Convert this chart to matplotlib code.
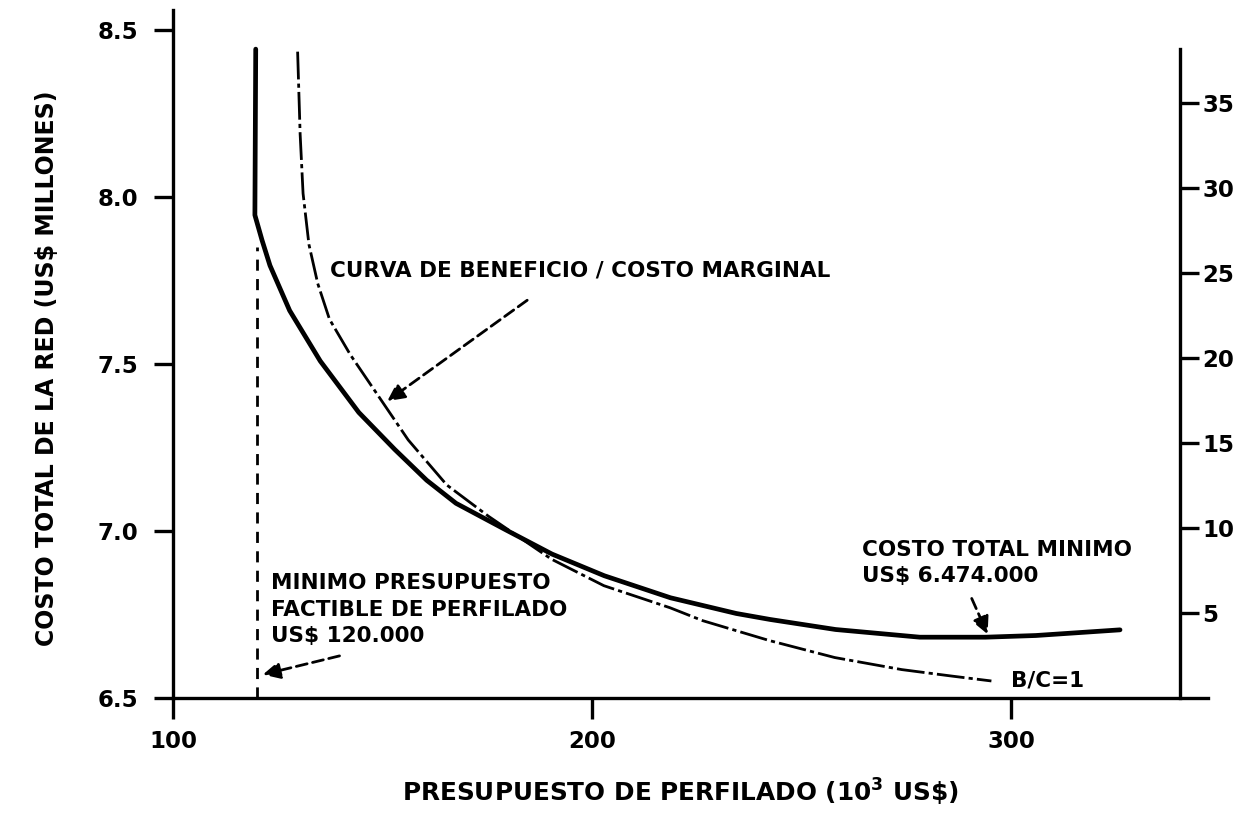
import matplotlib.pyplot as plt

# costo total de la red (eje izquierdo, US$ millones)
costo_x = [119.7, 119.5, 121.2, 123.1, 127.8, 135.1, 144.3, 152.9, 160.5, 167.5,
           179.3, 190.4, 202.9, 218.7, 234.4, 242.5, 258.1, 278.2, 293.9, 305.9, 326.0]
costo_y = [8.443, 7.946, 7.871, 7.795, 7.660, 7.509, 7.355, 7.244, 7.152, 7.083,
           7.004, 6.931, 6.866, 6.800, 6.753, 6.735, 6.705, 6.682, 6.682, 6.687, 6.704]

# curva beneficio / costo marginal (eje derecho)
bc_x = [129.7, 130.3, 131.0, 132.4, 134.5, 137.3, 142.3, 148.5, 156.1, 165.3,
        175.3, 190.3, 202.8, 218.6, 226.4, 242.3, 257.9, 273.9, 285.8, 295.3]
bc_y = [38.05, 33.2, 29.7, 26.7, 24.4, 22.3, 20.2, 17.95, 15.19, 12.54,
        10.69, 8.17, 6.61, 5.31, 4.55, 3.38, 2.38, 1.67, 1.29, 1.0]

# presupuesto minimo factible
x_min_factible = 120.0
y_corte = 7.85

x_ticks = [100, 200, 300]
y_ticks = [6.5, 7.0, 7.5, 8.0, 8.5]
y2_ticks = [5, 10, 15, 20, 25, 30, 35]

plt.rcParams["font.family"] = "DejaVu Sans"
plt.rcParams["font.weight"] = "bold"

fig = plt.figure(figsize=(12.46, 8.17), dpi=100)
ax = fig.add_axes([0.139, 0.1457, 0.8305, 0.842])
ax2 = ax.twinx()

ax.set_xlim(100, 347)
ax.set_ylim(6.5, 8.56)
ax2.set_ylim(0, 40.5)

ax.plot(costo_x, costo_y, color="black", lw=3.4, solid_joinstyle="round",
        solid_capstyle="round")
ax2.plot(bc_x, bc_y, color="black", lw=2.0, dashes=(10, 1.5, 1.5, 1.5))
ax.plot([x_min_factible, x_min_factible], [6.5, y_corte], color="black",
        lw=2.0, dashes=(4, 3))

# ejes
for a in (ax, ax2):
    a.spines["top"].set_visible(False)
ax.spines["right"].set_visible(False)
ax2.spines["left"].set_visible(False)
ax2.spines["bottom"].set_visible(False)
ax2.spines["right"].set_position(("axes", (340.3 - 100) / 247))
ax2.spines["right"].set_bounds(0, 38.2)
for s in ("left", "bottom"):
    ax.spines[s].set_linewidth(2.4)
ax2.spines["right"].set_linewidth(2.4)

ax.set_xticks(x_ticks)
ax.set_xticklabels([str(v) for v in x_ticks])
ax.set_yticks(y_ticks)
ax.set_yticklabels([f"{v:.1f}" for v in y_ticks])
ax2.set_yticks(y2_ticks)
ax2.set_yticklabels([f"{v}" for v in y2_ticks])

ax.tick_params(axis="y", direction="out", length=14, width=2.4, pad=11,
               labelsize=16.5)
ax.tick_params(axis="x", direction="out", length=15, width=2.4, pad=8,
               labelsize=16.5)
ax2.tick_params(axis="y", direction="out", length=14, width=2.4, pad=2,
                labelsize=16.5)

ax.set_ylabel("COSTO TOTAL DE LA RED (US$ MILLONES)", fontsize=17,
              fontweight="bold")
ax.yaxis.set_label_coords(-0.11, 0.48)
ax.set_xlabel(r"PRESUPUESTO DE PERFILADO (10$^{\mathbf{3}}$ US\$)",
              fontsize=17.8, fontweight="bold")
ax.xaxis.set_label_coords(0.49, -0.115)

arrow = dict(arrowstyle="-|>", color="black", lw=2.0, linestyle=(0, (4, 2)),
             mutation_scale=26, shrinkA=0, shrinkB=0)

ax.text(137.5, 7.78, "CURVA DE BENEFICIO / COSTO MARGINAL", fontsize=15.5,
        fontweight="bold", va="center", ha="left")
ax.annotate("", xy=(151.1, 7.389), xytext=(184.5, 7.691), arrowprops=arrow)

ax.text(264.5, 6.905, "COSTO TOTAL MINIMO\nUS$ 6.474.000", fontsize=15.5,
        fontweight="bold", va="center", ha="left", linespacing=1.35)
ax.annotate("", xy=(294.4, 6.691), xytext=(290.6, 6.798), arrowprops=arrow)

ax.text(123.3, 6.764, "MINIMO PRESUPUESTO\nFACTIBLE DE PERFILADO\nUS$ 120.000",
        fontsize=15.5, fontweight="bold", va="center", ha="left",
        linespacing=1.4)
ax.annotate("", xy=(121.4, 6.570), xytext=(139.7, 6.626), arrowprops=arrow)

ax.text(300.0, 6.551, "B/C=1", fontsize=15.5, fontweight="bold", va="center",
        ha="left")

fig.savefig("out.png", dpi=100)
